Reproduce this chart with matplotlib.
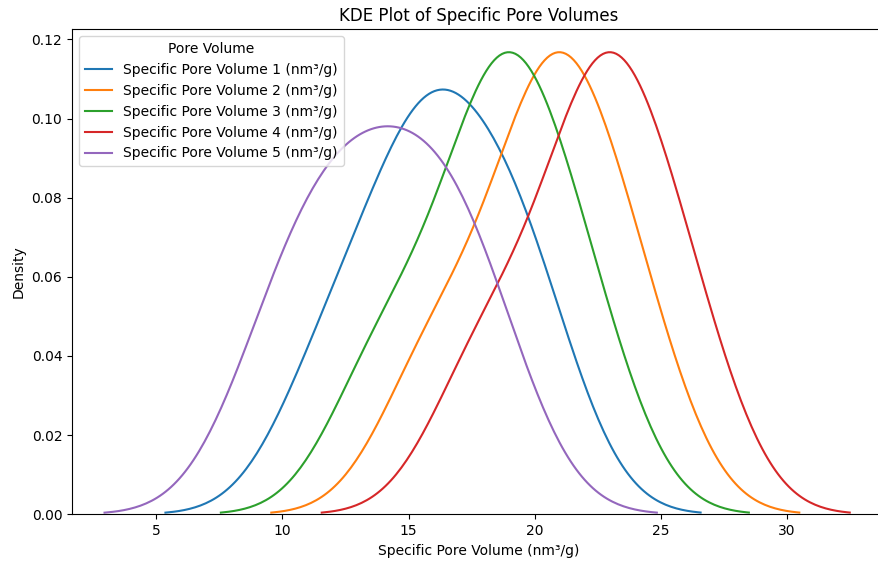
import pandas as pd
import matplotlib
matplotlib.use("Agg")
import matplotlib.pyplot as plt
import seaborn as sns

# Amostras estimadas a partir das curvas KDE
volume_1 = [11.97, 15.48, 15.48, 18.15, 19.97]
volume_2 = [16.01, 19.49, 20.66, 21.74, 24.04]
volume_3 = [14.01, 17.49, 18.66, 19.74, 22.04]
volume_4 = [18.01, 21.49, 22.66, 23.74, 26.04]
volume_5 = [9.85, 12.12, 13.97, 16.01, 17.94]

colunas = [f"Specific Pore Volume {i} (nm³/g)" for i in range(1, 6)]
dados = pd.DataFrame(dict(zip(colunas, [volume_1, volume_2, volume_3, volume_4, volume_5])))

fig, ax = plt.subplots(figsize=(8.79, 5.62), dpi=100)
# a imagem original foi recortada à direita, por isso o eixo passa da borda
fig.subplots_adjust(left=0.082, right=1.008, top=0.948, bottom=0.085)

for col in colunas:
    sns.kdeplot(dados[col], ax=ax, label=col)

ax.set_xlim(1.66, 33.93)
ax.legend(title="Pore Volume", loc="upper left")
ax.set_title("KDE Plot of Specific Pore Volumes")
ax.set_xlabel("Specific Pore Volume (nm³/g)")
ax.set_ylabel("Density")

fig.savefig("out.png", dpi=100)
